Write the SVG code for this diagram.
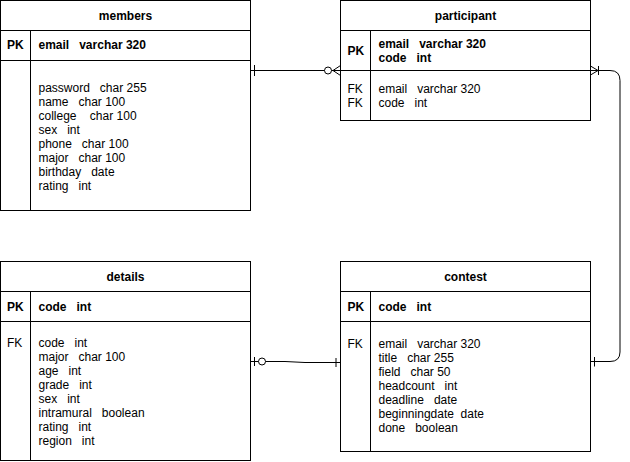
<svg xmlns="http://www.w3.org/2000/svg" width="630" height="462" viewBox="0 0 630 462" xml:space="preserve">
<style>
.box{fill:#fff;stroke:#000;stroke-width:1}
.ln{fill:none;stroke:#000;stroke-width:1}
text{font-family:"Liberation Sans",Arial,sans-serif;font-size:12px;fill:#000;white-space:pre}
.t{font-weight:bold;text-anchor:middle}
.b{font-weight:bold}
.edge{fill:none;stroke:#000;stroke-width:1}
.dot{fill:#fff;stroke:#000;stroke-width:1}
</style>
<rect width="630" height="462" fill="#fff"/>
<g id="members">
<rect class="box" x="0.5" y="0.5" width="250" height="210"/>
<path class="ln" d="M0.5,30.5H250.5M0.5,60.5H250.5M30.5,30.5V210.5"/>
<text class="t" x="125.5" y="20">members</text>
<text class="b" x="7" y="49">PK</text>
<text class="b" x="38.5" y="49">email   varchar 320</text>
<text x="38.5" y="91.5">password   char 255</text>
<text x="38.5" y="105.5">name   char 100</text>
<text x="38.5" y="119.5">college    char 100</text>
<text x="38.5" y="133.5">sex   int</text>
<text x="38.5" y="147.5">phone   char 100</text>
<text x="38.5" y="161.5">major   char 100</text>
<text x="38.5" y="175.5">birthday   date</text>
<text x="38.5" y="189.5">rating   int</text>
</g>
<g id="participant">
<rect class="box" x="340.5" y="0.5" width="250" height="120"/>
<path class="ln" d="M340.5,30.5H590.5M340.5,70.5H590.5M370.5,30.5V120.5"/>
<text class="t" x="465.5" y="20">participant</text>
<text class="b" x="347.5" y="54.5">PK</text>
<text class="b" x="378.5" y="47.5">email   varchar 320</text>
<text class="b" x="378.5" y="61.5">code   int</text>
<text x="347.5" y="92.5">FK</text>
<text x="347.5" y="106.5">FK</text>
<text x="378.5" y="92.5">email   varchar 320</text>
<text x="378.5" y="106.5">code   int</text>
</g>
<g id="details">
<rect class="box" x="0.5" y="261.5" width="250" height="199"/>
<path class="ln" d="M0.5,291.5H250.5M0.5,321.5H250.5M30.5,291.5V460.5"/>
<text class="t" x="125.5" y="281">details</text>
<text class="b" x="7" y="311">PK</text>
<text class="b" x="38.5" y="311">code   int</text>
<text x="7" y="347">FK</text>
<text x="38.5" y="347">code   int</text>
<text x="38.5" y="361">major   char 100</text>
<text x="38.5" y="375">age   int</text>
<text x="38.5" y="389">grade   int</text>
<text x="38.5" y="403">sex   int</text>
<text x="38.5" y="417">intramural   boolean</text>
<text x="38.5" y="431">rating   int</text>
<text x="38.5" y="445">region   int</text>
</g>
<g id="contest">
<rect class="box" x="340.5" y="261.5" width="250" height="190"/>
<path class="ln" d="M340.5,291.5H590.5M340.5,321.5H590.5M370.5,291.5V451.5"/>
<text class="t" x="465.5" y="281">contest</text>
<text class="b" x="347.5" y="311">PK</text>
<text class="b" x="378.5" y="311">code   int</text>
<text x="347.5" y="348">FK</text>
<text x="378.5" y="348">email   varchar 320</text>
<text x="378.5" y="362">title   char 255</text>
<text x="378.5" y="376">field   char 50</text>
<text x="378.5" y="390">headcount   int</text>
<text x="378.5" y="404">deadline   date</text>
<text x="378.5" y="418">beginningdate  date</text>
<text x="378.5" y="432">done   boolean</text>
</g>
<g id="connectors">
<path class="edge" d="M250.5,70.5H340.5M254.5,65V76M333,70.5L340.5,65.5M333,70.5L340.5,75.5"/>
<circle class="dot" cx="328" cy="70.5" r="3.5"/>
<path class="edge" d="M590.5,70.5H610Q620,70.5 620,80.5V352Q620,361.5 610,361.5H590.5M590.5,66L598,70.5L590.5,75M598.5,66V75M594.5,357V366.5"/>
<path class="edge" d="M250.5,361.5H285L305,362.5H340.5M254.5,357V366M336,358V367"/>
<circle class="dot" cx="262" cy="361.5" r="3.5"/>
</g>
</svg>
